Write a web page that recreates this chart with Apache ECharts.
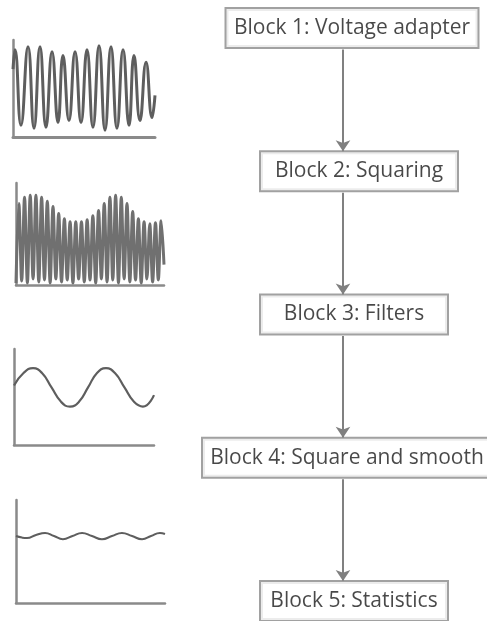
<!DOCTYPE html>
<html>
<head>
<meta charset="utf-8">
<script src="https://cdn.jsdelivr.net/npm/echarts@6/dist/echarts.min.js"></script>
<style>
html,body{margin:0;padding:0;background:#fff;}
#chart{width:487px;height:621px;}
</style>
</head>
<body>
<div id="chart"></div>
<script>
// ---- Flowchart blocks ----
const blocks = [
  'Block 1: Voltage adapter',
  'Block 2: Squaring',
  'Block 3: Filters',
  'Block 4: Square and smooth',
  'Block 5: Statistics'
];

// ---- Waveform 1: output of voltage adapter (time 0..100, amplitude 0..100) ----
const wave1T = [0, 1.4, 5.6, 10.6, 14.8, 19, 23.2, 27.5, 31.7, 35.2, 39.4, 43.7, 47.9, 52.1, 56.3, 60.6, 64.8, 69, 73.2, 77.5, 81.7, 85.2, 89.4, 93.7, 97.9, 100];
const wave1V = [70, 90, 12, 93, 9, 93, 10, 88, 15, 84, 17, 88, 15, 90, 10, 94, 7, 93, 9, 90, 12, 84, 17, 77, 20, 43];

// ---- Waveform 2: squared signal (alternating troughs and peaks) ----
const wave2V = [2, 80, 4, 86, 2, 88, 6, 88, 3, 86, 5, 82, 2, 77, 6, 70, 3, 65, 5, 62, 2, 62, 6, 62, 3, 64, 5, 68, 2, 73, 6, 80, 3, 86, 5, 88, 2, 86, 6, 80, 3, 72, 5, 65, 2, 62, 6, 60, 3, 61, 5, 63, 20];

// ---- Waveform 3: filtered signal ----
const wave3T = [0, 6.8, 13.6, 20, 26.8, 33.6, 40, 46.4, 52.9, 59.3, 65.7, 72.1, 78.9, 85.7, 92.1, 100];
const wave3V = [62, 75, 80, 75, 60, 45, 40, 45, 60, 75, 80, 75, 60, 45, 40, 52];

// ---- Waveform 4: squared and smoothed ----
const wave4T = [0, 4, 7.4, 13.4, 19.5, 25.5, 31.5, 37.9, 44.3, 51, 57.7, 64.4, 71.1, 77.9, 84.6, 90.6, 96.6, 100];
const wave4V = [65, 63.5, 63, 66, 68, 65, 62, 65, 68, 65, 62, 65, 68, 65, 62, 65, 68, 67];

// box styling (sizes / horizontal shifts of each block box, in px)
const boxWidths = [251, 196, 186, 288, 186];
const boxShift = [4, 11, 6, -1, 6];

const AXIS = '#8a8a8a';
const WAVE = '#5e5e5e';

const panels = [
  {left: 13, top: 40, width: 142, height: 97},
  {left: 16, top: 183, width: 148, height: 102},
  {left: 14, top: 349, width: 140, height: 96},
  {left: 16, top: 500, width: 149, height: 103}
];

const grids = panels.map(p => ({left: p.left, top: p.top, width: p.width, height: p.height}));
grids.push({left: 248, top: 28, width: 200, height: 573});

function axisStyle(w) {
  return {show: true, onZero: false, lineStyle: {color: AXIS, width: w}};
}

const xAxes = [];
const yAxes = [];
for (let i = 0; i < 4; i++) {
  if (i === 1) {
    xAxes.push({gridIndex: i, type: 'category', boundaryGap: false,
      data: wave2V.map((_, k) => String(k)),
      axisLine: axisStyle(2.5), axisTick: {show: false}, axisLabel: {show: false}, splitLine: {show: false}});
  } else {
    xAxes.push({gridIndex: i, type: 'value', min: 0, max: 100,
      axisLine: axisStyle(i === 0 ? 3 : 2.5), axisTick: {show: false}, axisLabel: {show: false}, splitLine: {show: false}});
  }
  yAxes.push({gridIndex: i, type: 'value', min: 0, max: 100,
    axisLine: axisStyle(2.5), axisTick: {show: false}, axisLabel: {show: false}, splitLine: {show: false}});
}
xAxes.push({gridIndex: 4, type: 'value', min: -100, max: 100, show: false});
yAxes.push({gridIndex: 4, type: 'value', min: 0, max: 4, inverse: true, show: false});

const zip = (a, b) => a.map((v, i) => [v, b[i]]);

const waveBase = {type: 'line', showSymbol: false, silent: true, animation: false};

const series = [
  Object.assign({}, waveBase, {xAxisIndex: 0, yAxisIndex: 0, smooth: 0.5,
    data: zip(wave1T, wave1V), lineStyle: {color: WAVE, width: 3}}),
  Object.assign({}, waveBase, {xAxisIndex: 1, yAxisIndex: 1, smooth: 0.35,
    data: wave2V, lineStyle: {color: '#707070', width: 3}}),
  Object.assign({}, waveBase, {xAxisIndex: 2, yAxisIndex: 2, smooth: 0.5,
    data: zip(wave3T, wave3V), lineStyle: {color: WAVE, width: 2.2}}),
  Object.assign({}, waveBase, {xAxisIndex: 3, yAxisIndex: 3, smooth: 0.5,
    data: zip(wave4T, wave4V), lineStyle: {color: WAVE, width: 2}}),
  {
    type: 'scatter', xAxisIndex: 4, yAxisIndex: 4, symbolSize: 0, clip: false,
    silent: true, animation: false, z: 5,
    data: blocks.map((name, i) => ({name: name, value: [0, i],
      label: {width: boxWidths[i], offset: [boxShift[i], 0]}})),
    label: {
      show: true, position: 'inside',
      formatter: p => p.name,
      fontFamily: 'Open Sans', fontSize: 21, color: '#1a1a1a',
      align: 'center', lineHeight: 24,
      backgroundColor: '#fff', borderColor: '#8a8a8a', borderWidth: 2,
      padding: [7, 0]
    },
    markLine: {
      silent: true, animation: false,
      symbol: ['none', 'arrow'], symbolSize: [11, 11],
      label: {show: false},
      lineStyle: {color: '#808080', width: 2, type: 'solid'},
      data: blocks.slice(0, -1).map((_, i) => [
        {coord: [-5, i + 0.15]},
        {coord: [-5, i + 1 - 0.14]}
      ])
    }
  }
];

const chart = echarts.init(document.getElementById('chart'), null, {renderer: 'canvas'});
chart.setOption({
  animation: false,
  backgroundColor: '#fff',
  grid: grids,
  xAxis: xAxes,
  yAxis: yAxes,
  series: series
});
</script>
</body>
</html>
